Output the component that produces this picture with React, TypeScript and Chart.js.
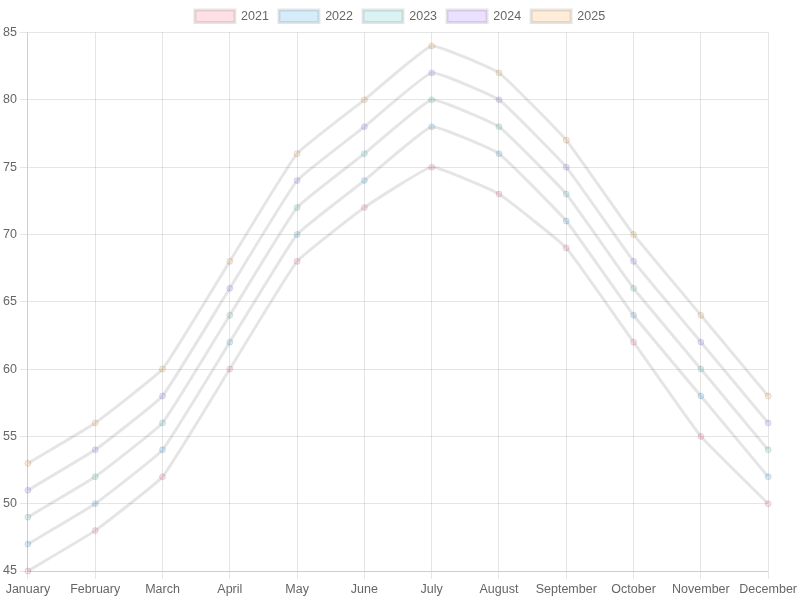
import React, { useEffect, useRef } from "react";
import { Chart, registerables } from "chart.js";

Chart.register(...registerables);

const months = ["January", "February", "March", "April", "May", "June", "July", "August", "September", "October", "November", "December"];
const years = ["2021", "2022", "2023", "2024", "2025"];
const v2021 = [45, 48, 52, 60, 68, 72, 75, 73, 69, 62, 55, 50];
const v2022 = [47, 50, 54, 62, 70, 74, 78, 76, 71, 64, 58, 52];
const v2023 = [49, 52, 56, 64, 72, 76, 80, 78, 73, 66, 60, 54];
const v2024 = [51, 54, 58, 66, 74, 78, 82, 80, 75, 68, 62, 56];
const v2025 = [53, 56, 60, 68, 76, 80, 84, 82, 77, 70, 64, 58];
const fills = [
  "rgba(255, 99, 132, 0.2)",
  "rgba(54, 162, 235, 0.2)",
  "rgba(75, 192, 192, 0.2)",
  "rgba(153, 102, 255, 0.2)",
  "rgba(255, 159, 64, 0.2)",
];

export default function App() {
  const ref = useRef<HTMLCanvasElement>(null);
  useEffect(() => {
    Chart.defaults.font.size = 12.5;
    const series = [v2021, v2022, v2023, v2024, v2025];
    const chart = new Chart(ref.current!, {
      type: "line",
      data: {
        labels: months,
        datasets: years.map((y, i) => ({
          label: y,
          data: series[i],
          backgroundColor: fills[i],
          tension: 0.1,
        })),
      },
      options: {
        animation: false,
        responsive: true,
        maintainAspectRatio: false,
      },
    });
    return () => chart.destroy();
  }, []);
  return (
    <div style={{ position: "absolute", left: 0, top: 0, width: 800, height: 600 }}>
      <canvas ref={ref} />
    </div>
  );
}
